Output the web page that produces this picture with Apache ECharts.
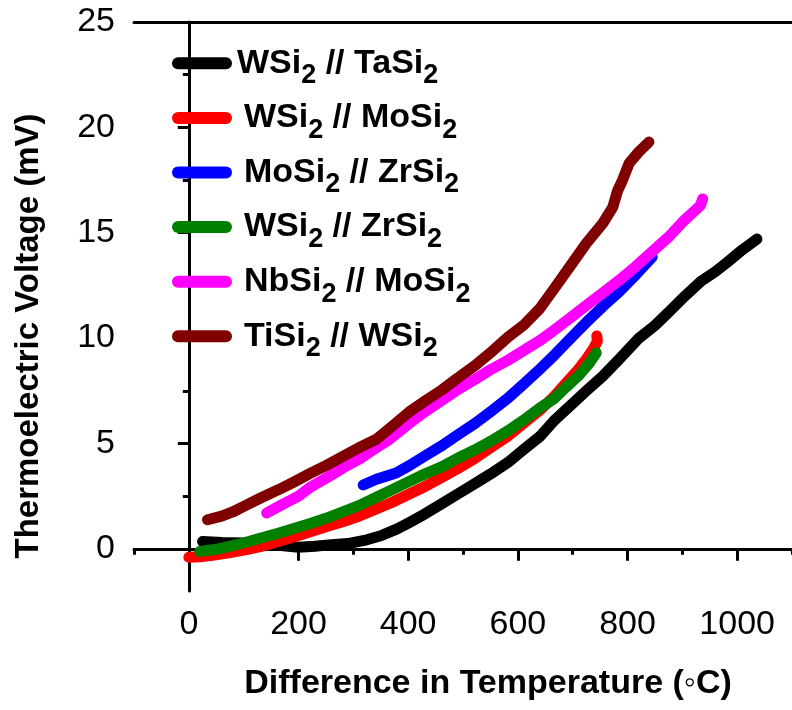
<!DOCTYPE html>
<html>
<head>
<meta charset="utf-8">
<script src="https://cdn.jsdelivr.net/npm/echarts@6/dist/echarts.min.js"></script>
<style>
  html, body { margin: 0; padding: 0; background: #fff; }
  #chart { width: 792px; height: 710px; }
</style>
</head>
<body>
<div id="chart"></div>
<script>
// ---- data (Temperature difference in °C, Thermoelectric voltage in mV) ----
const seriesNames = ['WSi2 // TaSi2', 'WSi2 // MoSi2', 'MoSi2 // ZrSi2', 'WSi2 // ZrSi2', 'NbSi2 // MoSi2', 'TiSi2 // WSi2'];
const seriesColors = ['#000000', '#ff0000', '#0000ff', '#008000', '#ff00ff', '#800000'];

const wsiTaSi = [[25,0.35],[60,0.3],[100,0.28],[150,0.2],[200,0.08],[230,0.12],[260,0.2],[290,0.25],[320,0.4],[350,0.62],[380,0.95],[402,1.25],[430,1.65],[462,2.15],[490,2.6],[522,3.1],[550,3.55],[582,4.1],[610,4.7],[641,5.35],[665,6.05],[700,6.9],[725,7.5],[755,8.2],[785,9.0],[821,10.0],[850,10.6],[874,11.2],[905,12.0],[934,12.7],[960,13.15],[982,13.6],[1010,14.2],[1036,14.7]];
const wsiMoSi = [[0,-0.4],[20,-0.38],[43,-0.3],[70,-0.2],[103,-0.05],[130,0.1],[163,0.35],[190,0.55],[223,0.82],[250,1.05],[282,1.3],[310,1.55],[342,1.9],[370,2.2],[402,2.6],[430,2.95],[462,3.4],[490,3.8],[522,4.3],[550,4.8],[582,5.35],[610,5.95],[641,6.6],[665,7.2],[689,7.9],[710,8.5],[725,9.0],[738,9.5],[745,9.85],[744,10.1]];
const mosiZrSi = [[318,3.03],[342,3.3],[378,3.6],[402,3.95],[430,4.4],[462,4.9],[490,5.4],[522,5.95],[550,6.5],[582,7.15],[610,7.8],[641,8.55],[665,9.15],[689,9.8],[710,10.35],[725,10.75],[755,11.5],[785,12.2],[815,13.0],[845,13.85]];
const wsiZrSi = [[20,-0.12],[50,-0.02],[80,0.15],[103,0.3],[130,0.5],[163,0.74],[190,0.95],[223,1.22],[250,1.45],[282,1.77],[310,2.05],[342,2.45],[370,2.8],[402,3.2],[430,3.55],[462,3.9],[490,4.3],[522,4.7],[550,5.1],[582,5.6],[610,6.1],[641,6.7],[665,7.1],[689,7.7],[710,8.2],[730,8.8],[743,9.3]];
const nbsiMoSi = [[142,1.7],[170,2.1],[200,2.5],[223,2.95],[250,3.35],[282,3.85],[310,4.25],[342,4.8],[366,5.2],[402,5.95],[430,6.5],[462,7.05],[490,7.55],[522,8.05],[550,8.5],[582,8.95],[610,9.4],[641,9.9],[665,10.35],[695,10.95],[725,11.55],[755,12.15],[785,12.75],[815,13.4],[845,14.1],[875,14.8],[904,15.6],[925,16.1],[933,16.3],[937,16.6]];
const tisiWSi = [[34,1.38],[60,1.55],[80,1.75],[103,2.05],[130,2.4],[163,2.8],[190,3.15],[223,3.6],[250,3.95],[282,4.4],[310,4.8],[342,5.2],[370,5.8],[402,6.5],[430,7.0],[462,7.55],[490,8.1],[522,8.7],[550,9.3],[582,10.05],[610,10.6],[640,11.4],[665,12.3],[695,13.4],[725,14.5],[755,15.45],[773,16.2],[782,17.0],[791,17.5],[803,18.3],[821,18.85],[839,19.3]];

const xMajorTicks = [0, 200, 400, 600, 800, 1000];
const xMinorTicks = [-100, 100, 300, 500, 700, 900, 1100];
const yMajorTicks = [0, 5, 10, 15, 20, 25];
const yMinorTicks = [2.5, 7.5, 12.5, 17.5, 22.5];

const xTitle = 'Difference in Temperature (\u25E6C)';
const yTitle = 'Thermoelectric Voltage (mV)';

// ---- chart ----
const FONT = '"Liberation Sans", Arial, Helvetica, sans-serif';
const chart = echarts.init(document.getElementById('chart'), null, { renderer: 'canvas' });
const allData = [wsiTaSi, wsiMoSi, mosiZrSi, wsiZrSi, nbsiMoSi, tisiWSi];

function legendRich(name) {
  const parts = name.split('2');
  let out = name === seriesNames[0] ? '' : '{g| }';
  for (let i = 0; i < parts.length; i++) {
    if (parts[i]) out += '{a|' + parts[i] + '}';
    if (i < parts.length - 1) out += '{s|2}';
  }
  return out;
}
const plainNum = v => String(v);

const lineAxis = { lineStyle: { color: '#000', width: 3 } };

const option = {
  animation: false,
  backgroundColor: '#fff',
  grid: { left: 134, top: 22, width: 668.4, height: 569, containLabel: false },
  legend: {
    orient: 'vertical',
    left: 172,
    top: 37.3,
    padding: 0,
    itemGap: 2.6,
    itemWidth: 60,
    itemHeight: 13,
    selectedMode: false,
    icon: 'path://M6,0 L54,0 A6,6 0 0 1 54,12 L6,12 A6,6 0 0 1 6,0 Z',
    data: seriesNames,
    formatter: legendRich,
    textStyle: {
      fontFamily: FONT,
      color: '#000',
      rich: {
        a: { fontFamily: FONT, fontSize: 34, fontWeight: 'bold', color: '#000', lineHeight: 44 },
        s: { fontFamily: FONT, fontSize: 27, fontWeight: 'bold', color: '#000', lineHeight: 44, padding: [25, 0, 0, 0] },
        g: { fontFamily: FONT, fontSize: 25, fontWeight: 'bold', color: '#000', lineHeight: 44 }
      }
    }
  },
  xAxis: [
    {
      type: 'value', min: -100, max: 1100, position: 'bottom',
      axisLine: lineAxis,
      axisTick: { show: true, inside: false, length: 12, customValues: xMajorTicks, lineStyle: { color: '#000', width: 3 } },
      axisLabel: { show: true, customValues: xMajorTicks, formatter: plainNum, margin: 17, fontFamily: FONT, fontSize: 34, color: '#000' },
      splitLine: { show: false }
    },
    {
      type: 'value', min: -100, max: 1100, position: 'bottom',
      axisLine: { show: false },
      axisTick: { show: true, inside: false, length: 6, customValues: xMinorTicks, lineStyle: { color: '#000', width: 3 } },
      axisLabel: { show: false },
      splitLine: { show: false }
    },
    {
      type: 'value', min: -100, max: 1100, position: 'top',
      axisLine: lineAxis,
      axisTick: { show: false },
      axisLabel: { show: false },
      splitLine: { show: false }
    }
  ],
  yAxis: [
    {
      type: 'value', min: -2, max: 25, position: 'left',
      axisLine: lineAxis,
      axisTick: { show: true, inside: false, length: 11, customValues: yMajorTicks, lineStyle: { color: '#000', width: 3 } },
      axisLabel: { show: true, customValues: yMajorTicks, formatter: plainNum, margin: 19, fontFamily: FONT, fontSize: 34, color: '#000' },
      splitLine: { show: false }
    },
    {
      type: 'value', min: -2, max: 25, position: 'left',
      axisLine: { show: false },
      axisTick: { show: true, inside: false, length: 6, customValues: yMinorTicks, lineStyle: { color: '#000', width: 3 } },
      axisLabel: { show: false },
      splitLine: { show: false }
    }
  ],
  series: seriesNames.map((name, i) => ({
    name: name,
    type: 'line',
    xAxisIndex: 0,
    yAxisIndex: 0,
    data: allData[i],
    showSymbol: false,
    symbol: 'none',
    smooth: false,
    color: seriesColors[i],
    itemStyle: { color: seriesColors[i] },
    lineStyle: { color: seriesColors[i], width: 11, cap: 'round', join: 'round' },
    z: 2 + i
  })),
  graphic: [
    {
      type: 'text', x: 488, y: 684,
      style: { text: xTitle, fontFamily: FONT, fontSize: 34, fontWeight: 'bold', fill: '#000', align: 'center', verticalAlign: 'middle' }
    },
    {
      type: 'text', x: 29, y: 336, rotation: Math.PI / 2,
      style: { text: yTitle, fontFamily: FONT, fontSize: 33, fontWeight: 'bold', fill: '#000', align: 'center', verticalAlign: 'middle' }
    }
  ]
};
chart.setOption(option);
</script>
</body>
</html>
